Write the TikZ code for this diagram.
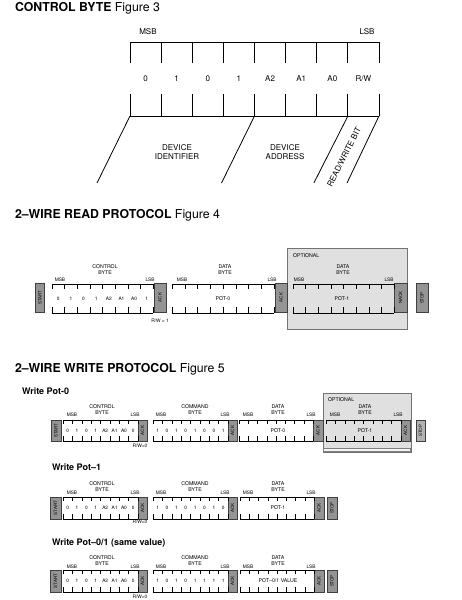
\documentclass[tikz,border=0pt]{standalone}
\usepackage{graphicx}
\usepackage{fontspec}
\setmainfont{TeX Gyre Heros}
\usetikzlibrary{positioning,calc}

% top and bottom rails of a byte field, with the bit ticks
\newcommand\bytebox[3]{%
  \draw (#1.north west) -- (#1.north east) (#1.south west) -- (#1.south east);
  \foreach \i in {0,...,8} {
    \draw ($(#1.north west)!\i/8!(#1.north east)$) -- ++(0,#2);
    \draw ($(#1.south west)!\i/8!(#1.south east)$) -- ++(0,-#3);
  }}
% one label per bit cell
\newcommand\bytebits[3][tiny]{%
  \foreach \b [count=\i] in {#3}
    \node[#1] (#2-\i) at ($(#2.west)!\i/8-1/16!(#2.east)$) {\b};}

\begin{document}
\begin{tikzpicture}[
  x=1pt, y=-1pt,
  every node/.style={inner sep=0pt, outer sep=0pt},
  head/.style={anchor=west, font=\fontsize{12.3}{14}\selectfont},
  sub/.style={anchor=west, font=\fontsize{9}{11}\selectfont\bfseries},
  big/.style={font=\fontsize{8}{9.6}\selectfont, align=center},
  small/.style={font=\fontsize{5.2}{6}\selectfont, align=center},
  tiny/.style={font=\fontsize{4.8}{5.5}\selectfont, align=center},
  field/.style={rectangle, minimum height=29pt},
  gate/.style={draw=black!75, fill=black!42, rectangle, minimum height=29pt, font=\fontsize{4.5}{5}\selectfont},
  optbox/.style={draw=black!55, fill=black!12, line width=0.7pt, rectangle},
  fig3/.style={line width=0.8pt},
  fig45/.style={line width=0.45pt},
]
\useasboundingbox (0,0) rectangle (462,600);

% ---------- Figure 3
\node[head] (t3) at (15,8) {\textbf{CONTROL BYTE} Figure 3};
\begin{scope}[fig3]
\node[field, minimum width=249pt, minimum height=74pt] (cb3) at (254.5,79) {};
\bytebox{cb3}{21}{22}
\bytebits[big]{cb3}{0,1,0,1,A2,A1,A0,R/W}
\node[big] (msb3) at (148,32) {MSB};
\node[big] (lsb3) at (367,32) {LSB};
\draw (cb3.south west) -- ++(-33,67);
\draw ($(cb3.south west)!4/8!(cb3.south east)$) -- ++(-33,67);
\draw ($(cb3.south west)!7/8!(cb3.south east)$) -- ++(-34,67);
\draw (cb3.south east) -- ++(-32,67);
\end{scope}
\node[big] (devid) at (177,152) {DEVICE\\IDENTIFIER};
\node[big] (devad) at (285,152) {DEVICE\\ADDRESS};
\node[big, rotate=63] (rwbit) at (344,157) {READ/WRITE BIT};

% ---------- Figure 4
\node[head] (t4) at (15,215) {\textbf{2–WIRE READ PROTOCOL} Figure 4};
\node[optbox, minimum width=120pt, minimum height=81pt] (opt4) at (347,288.5) {};
\node[small, anchor=west] (opt4-lbl) at (293,256) {OPTIONAL};
\begin{scope}[fig45]
\node[gate, minimum width=8.7pt] (start4) at (40,297.5) {\rotatebox{90}{START}};
\node[field, minimum width=101pt] (cb4) at (102.5,298.5) {};
\node[gate, minimum width=12pt] (ack4a) at (160,297.5) {\rotatebox{90}{ACK}};
\node[field, minimum width=102pt] (db4a) at (223,298.5) {};
\node[gate, minimum width=12pt] (ack4b) at (281,297.5) {\rotatebox{90}{ACK}};
\node[field, minimum width=101pt] (db4b) at (343.5,298.5) {};
\node[gate, minimum width=13pt] (nack4) at (400.5,297.5) {\rotatebox{90}{NACK}};
\node[gate, minimum width=12pt] (stop4) at (422,298) {\rotatebox{90}{STOP}};
\foreach \f in {cb4,db4a,db4b} {\bytebox{\f}{5}{6}}
\end{scope}
\bytebits{cb4}{0,1,0,1,A2,A1,A0,1}
\node[small] (pot4a) at (223,298.5) {POT-0};
\node[small] (pot4b) at (342,298.5) {POT-1};
\node[small] (cb4-lbl) at (105,270) {CONTROL\\BYTE};
\node[small] (db4a-lbl) at (225,270) {DATA\\BYTE};
\node[small] (db4b-lbl) at (343,270) {DATA\\BYTE};
\foreach \f/\m/\l in {cb4/60/150, db4a/182/272, db4b/299/389} {
  \node[tiny] (\f-msb) at (\m,280) {MSB};
  \node[tiny] (\f-lsb) at (\l,280) {LSB};
}
\node[tiny] (rw4) at (160,321) {R/W = 1};

% ---------- Figure 5
\node[head] (t5) at (15,369) {\textbf{2–WIRE WRITE PROTOCOL} Figure 5};
\node[sub] (w0) at (22,391) {Write Pot-0};
\node[sub] (w1) at (52,467) {Write Pot–1};
\node[sub] (w01) at (52,543) {Write Pot–0/1 (same value)};
\node[optbox, minimum width=88pt, minimum height=59pt] (opt5) at (367,422.5) {};
\draw[black!50, fill=black!4, line width=0.5pt] ($(opt5.south west)+(0.35,-4)$) rectangle ($(opt5.south east)+(-0.35,-0.35)$);
\node[small, anchor=west] (opt5-lbl) at (328,400) {OPTIONAL};
\begin{scope}[fig45, field/.append style={minimum height=21.5pt}, gate/.append style={minimum height=21.5pt}]
% row 1
\node[gate, minimum width=10pt] (start5a) at (56,430.5) {\rotatebox{90}{START}};
\node[field, minimum width=75pt] (cb5a) at (100.5,430.5) {};
\node[gate, minimum width=9pt] (ack5a1) at (142.5,430.5) {\rotatebox{90}{ACK}};
\node[field, minimum width=75pt] (cmd5a) at (190.5,430.5) {};
\node[gate, minimum width=9pt] (ack5a2) at (232.5,430.5) {\rotatebox{90}{ACK}};
\node[field, minimum width=74pt] (db5a) at (276,430.5) {};
\node[gate, minimum width=10pt] (ack5a3) at (318,430.5) {\rotatebox{90}{ACK}};
\node[field, minimum width=75pt] (db5a2) at (363.5,430.5) {};
\node[gate, minimum width=9pt] (ack5a4) at (405.5,430.5) {\rotatebox{90}{ACK}};
\node[gate, minimum width=9pt, fill=black!30] (stop5a) at (420.5,430.5) {\rotatebox{90}{STOP}};
% rows 2 and 3
\foreach \r/\y in {b/508, c/581} {
  \node[gate, minimum width=11pt] (start5\r) at (55.5,\y) {\rotatebox{90}{START}};
  \node[field, minimum width=75pt] (cb5\r) at (100.5,\y) {};
  \node[gate, minimum width=9pt] (ack5\r1) at (142.5,\y) {\rotatebox{90}{ACK}};
  \node[field, minimum width=75pt] (cmd5\r) at (190.5,\y) {};
  \node[gate, minimum width=9pt] (ack5\r2) at (232.5,\y) {\rotatebox{90}{ACK}};
  \node[field, minimum width=74pt] (db5\r) at (277,\y) {};
  \node[gate, minimum width=10pt] (ack5\r3) at (319,\y) {\rotatebox{90}{ACK}};
  \node[gate, minimum width=10pt] (stop5\r) at (332,\y) {\rotatebox{90}{STOP}};
}
\foreach \f in {cb5a,cmd5a,db5a,db5a2,cb5b,cmd5b,db5b,cb5c,cmd5c,db5c} {\bytebox{\f}{4}{5}}
\end{scope}
\foreach \r in {a,b,c} {\bytebits{cb5\r}{0,1,0,1,A2,A1,A0,0}}
\bytebits{cmd5a}{1,0,1,0,1,0,0,1}
\bytebits{cmd5b}{1,0,1,0,1,0,1,0}
\bytebits{cmd5c}{1,0,1,0,1,1,1,1}
\node[small] (pot5a) at (278,430.5) {POT-0};
\node[small] (pot5a2) at (365,430.5) {POT-1};
\node[small] (pot5b) at (278,508) {POT-1};
\node[small] (pot5c) at (278,581) {POT–0/1 VALUE};
\foreach \r/\y in {a/410, b/487, c/561} {
  \node[small] (cb5\r-lbl) at (102,\y) {CONTROL\\BYTE};
  \node[small] (cmd5\r-lbl) at (195,\y) {COMMAND\\BYTE};
  \node[small] (db5\r-lbl) at (278,\y) {DATA\\BYTE};
}
\node[small] (db5a2-lbl) at (365,410) {DATA\\BYTE};
\foreach \r/\y in {a/415, b/493, c/567} {
  \node[tiny] (cb5\r-msb) at (72,\y) {MSB};
  \node[tiny] (cb5\r-lsb) at (135,\y) {LSB};
  \node[tiny] (cmd5\r-msb) at (161,\y) {MSB};
  \node[tiny] (cmd5\r-lsb) at (225,\y) {LSB};
  \node[tiny] (db5\r-msb) at (248,\y) {MSB};
  \node[tiny] (db5\r-lsb) at (311,\y) {LSB};
}
\node[tiny] (db5a2-msb) at (335,415) {MSB};
\node[tiny] (db5a2-lsb) at (398,415) {LSB};
\foreach \r/\y in {a/446, b/522, c/597} {
  \node[tiny] (rw5\r) at (140,\y) {R/W=0};
}
\end{tikzpicture}
\end{document}
